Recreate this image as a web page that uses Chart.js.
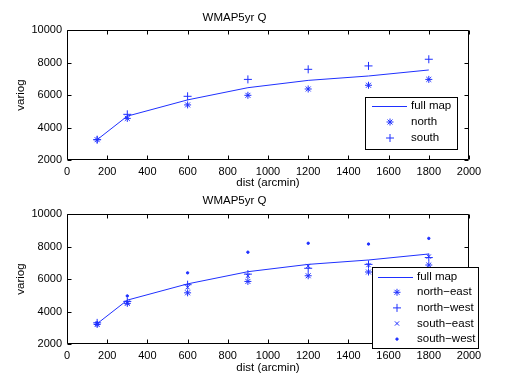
<!DOCTYPE html>
<html>
<head>
<meta charset="utf-8">
<script src="https://cdn.jsdelivr.net/npm/chart.js@4/dist/chart.umd.min.js"></script>
<style>
  html, body { margin: 0; padding: 0; background: #fff; }
  body { width: 518px; height: 388px; position: relative; overflow: hidden; }
  canvas { position: absolute; left: 0; }
</style>
</head>
<body>
<canvas id="c1" width="518" height="194" style="top:0px"></canvas>
<canvas id="c2" width="518" height="200" style="top:188px"></canvas>
<script>
// ---- data ----
const chartTitle = 'WMAP5yr Q';
const xLabel = 'dist (arcmin)';
const yLabel = 'variog';
const dist = [150, 300, 600, 900, 1200, 1500, 1800];
const fullMap = [3250, 4700, 5700, 6450, 6900, 7170, 7540];
const north = [3250, 4560, 5390, 5980, 6370, 6600, 6960];
const south = [3250, 4810, 5920, 6960, 7580, 7790, 8200];
const northEast = [3200, 4500, 5150, 5850, 6200, 6430, 6860];
const northWest = [3300, 4620, 5650, 6300, 6660, 6900, 7320];
const southEast = [3250, 4550, 5490, 6200, 6800, 6860, 7380];
const southWest = [3300, 4960, 6380, 7650, 8200, 8150, 8500];
const xTicks = [0, 200, 400, 600, 800, 1000, 1200, 1400, 1600, 1800, 2000];
const yTicks = [2000, 4000, 6000, 8000, 10000];

const FONT = 'Liberation Sans, Arial, Helvetica, sans-serif';
const BLUE = '#1f30ff';

const pts = (vals) => dist.map((d, i) => ({ x: d, y: vals[i] }));

function lineDs(label, vals) {
  return { label, data: pts(vals), borderColor: BLUE, backgroundColor: BLUE,
           borderWidth: 1, pointRadius: 0, showLine: true, tension: 0 };
}
function markDs(label, vals, style, r) {
  return { label, data: pts(vals), borderColor: BLUE, backgroundColor: BLUE,
           borderWidth: 1, pointStyle: style, pointRadius: r, pointHoverRadius: r,
           showLine: false };
}

// box + inward ticks on all four sides
const boxPlugin = {
  id: 'mbox',
  afterDatasetsDraw(chart) {
    const { ctx, chartArea: a, scales } = chart;
    ctx.save();
    ctx.strokeStyle = '#000';
    ctx.lineWidth = 1;
    ctx.beginPath();
    const L = Math.round(a.left) + 0.5, R = Math.round(a.right) - 0.5;
    const T = Math.round(a.top) + 0.5, B = Math.round(a.bottom) - 0.5;
    ctx.rect(L, T, R - L, B - T);
    const tl = 4;
    scales.x.ticks.forEach(t => {
      const px = Math.round(scales.x.getPixelForValue(t.value)) + 0.5;
      ctx.moveTo(px, B); ctx.lineTo(px, B - tl);
      ctx.moveTo(px, T); ctx.lineTo(px, T + tl);
    });
    scales.y.ticks.forEach(t => {
      const py = Math.round(scales.y.getPixelForValue(t.value)) + 0.5;
      ctx.moveTo(L, py); ctx.lineTo(L + tl, py);
      ctx.moveTo(R, py); ctx.lineTo(R - tl, py);
    });
    ctx.stroke();
    ctx.restore();
  }
};

// matlab-style legend box inside the axes
const legendPlugin = {
  id: 'mlegend',
  afterDraw(chart, args, o) {
    const ctx = chart.ctx;
    ctx.save();
    ctx.fillStyle = '#fff';
    ctx.fillRect(o.x, o.y, o.w, o.h);
    ctx.strokeStyle = '#000';
    ctx.lineWidth = 1;
    ctx.strokeRect(o.x + 0.5, o.y + 0.5, o.w, o.h);
    chart.data.datasets.forEach((ds, i) => {
      const y = o.row0 + i * o.step;
      ctx.strokeStyle = ds.borderColor;
      ctx.fillStyle = ds.backgroundColor;
      ctx.lineWidth = 1;
      if (ds.showLine) {
        ctx.beginPath();
        ctx.moveTo(o.lineX0, Math.round(y) + 0.5);
        ctx.lineTo(o.lineX1, Math.round(y) + 0.5);
        ctx.stroke();
      } else {
        Chart.helpers.drawPoint(ctx, { pointStyle: ds.pointStyle, radius: ds.pointRadius,
          rotation: 0, borderWidth: ds.borderWidth }, o.markX, y);
      }
      ctx.fillStyle = '#000';
      ctx.font = '11.5px ' + FONT;
      ctx.textBaseline = 'middle';
      ctx.textAlign = 'left';
      ctx.fillText(ds.label, o.textX, y);
    });
    ctx.restore();
  }
};

function makeChart(id, datasets, m) {
  return new Chart(document.getElementById(id), {
    type: 'line',
    data: { datasets },
    plugins: [boxPlugin, legendPlugin],
    options: {
      responsive: false,
      animation: false,
      devicePixelRatio: 1,
      layout: { padding: { left: 0, right: 49, top: 0, bottom: 0 } },
      plugins: {
        legend: { display: false },
        tooltip: { enabled: false },
        title: { display: true, text: chartTitle, color: '#000',
                 font: { family: FONT, size: 11.5, weight: 'normal' },
                 padding: { top: m.titleTop, bottom: m.titleBottom } },
        mlegend: m.legend
      },
      scales: {
        x: {
          type: 'linear', min: 0, max: 2000,
          afterBuildTicks: s => { s.ticks = xTicks.map(v => ({ value: v })); },
          afterFit: s => { s.height = m.xHeight; },
          grid: { display: false, drawTicks: false },
          border: { display: false },
          ticks: { color: '#000', font: { family: FONT, size: 11 }, padding: 5,
                   autoSkip: false, maxRotation: 0, callback: v => String(v) },
          title: { display: true, text: xLabel, color: '#000',
                   font: { family: FONT, size: 11.5 }, padding: { top: 0, bottom: m.xTitleBottom } }
        },
        y: {
          type: 'linear', min: 2000, max: 10000,
          afterBuildTicks: s => { s.ticks = yTicks.map(v => ({ value: v })); },
          afterFit: s => { s.width = 67; },
          grid: { display: false, drawTicks: false },
          border: { display: false },
          ticks: { color: '#000', font: { family: FONT, size: 11 }, padding: 5,
                   callback: v => String(v) },
          title: { display: true, text: yLabel, color: '#000',
                   font: { family: FONT, size: 11.5 }, padding: { top: 14, bottom: 0 } }
        }
      }
    }
  });
}

makeChart('c1', [
  lineDs('full map', fullMap),
  markDs('north', north, 'star', 3.5),
  markDs('south', south, 'cross', 4)
], {
  titleTop: 11.1, titleBottom: 5.1, xHeight: 34, xTitleBottom: 4.1,
  legend: { x: 365, y: 97, w: 92, h: 52, row0: 106, step: 16,
            lineX0: 372, lineX1: 407, markX: 390, textX: 411 }
});

makeChart('c2', [
  lineDs('full map', fullMap),
  markDs('north\u2212east', northEast, 'star', 3.5),
  markDs('north\u2212west', northWest, 'cross', 4),
  markDs('south\u2212east', southEast, 'crossRot', 3),
  markDs('south\u2212west', southWest, 'circle', 1.2)
], {
  titleTop: 6.1, titleBottom: 6.1, xHeight: 44, xTitleBottom: 13.1,
  legend: { x: 372, y: 79, w: 106, h: 81, row0: 88.7, step: 15.6,
            lineX0: 378, lineX1: 413, markX: 397, textX: 417 }
});
</script>
</body>
</html>
